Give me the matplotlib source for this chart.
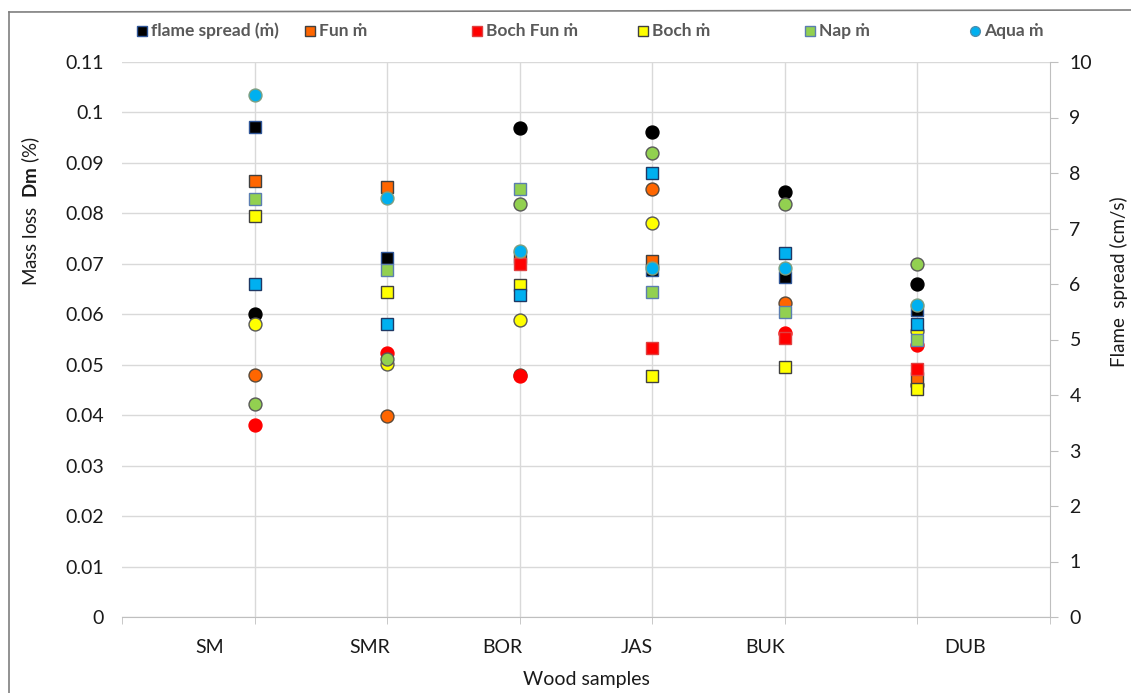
import numpy as np
import matplotlib
matplotlib.use('Agg')
import matplotlib.pyplot as plt
from matplotlib.lines import Line2D

plt.rcParams['font.family'] = ['Lato', 'DejaVu Sans']
plt.rcParams['mathtext.fontset'] = 'custom'
plt.rcParams['mathtext.bf'] = 'Lato:bold'
plt.rcParams['mathtext.rm'] = 'Lato'

nan = np.nan
samples = ['SM', 'SMR', 'BOR', 'JAS', 'BUK', 'DUB']
# where the sample names sit along the x axis (as in the original)
label_pos = [0.66, 1.87, 2.87, 3.88, 4.85, 6.36]

# mass loss Dm (%) -> circles, left axis
flame_dm = [0.0601, nan, 0.0969, 0.0961, 0.0843, 0.0660]
fun_dm = [0.0480, 0.0398, 0.0480, 0.0848, 0.0622, 0.0460]
bochfun_dm = [0.0380, 0.0524, 0.0478, nan, 0.0562, 0.0539]
boch_dm = [0.0581, 0.0501, 0.0589, 0.0780, nan, 0.0566]
nap_dm = [0.0422, 0.0512, 0.0819, 0.0920, 0.0819, 0.0700]
aqua_dm = [0.1035, 0.0831, 0.0725, 0.0691, 0.0691, 0.0618]

# flame spread (cm/s) -> squares, right axis
flame_fs = [8.83, 6.46, nan, 6.25, 6.13, 5.53]
fun_fs = [7.86, 7.75, 6.49, 6.42, nan, 4.30]
bochfun_fs = [nan, nan, 6.36, 4.84, 5.02, 4.47]
boch_fs = [7.23, 5.85, 5.99, 4.35, 4.51, 4.10]
nap_fs = [7.53, 6.25, 7.71, 5.86, 5.49, 5.00]
aqua_fs = [6.00, 5.28, 5.81, 8.00, 6.55, 5.28]

series_names = ['flame spread (\u1e41)', 'Fun \u1e41', 'Boch Fun \u1e41', 'Boch \u1e41', 'Nap \u1e41', 'Aqua \u1e41']
dm_data = [flame_dm, fun_dm, bochfun_dm, boch_dm, nap_dm, aqua_dm]
fs_data = [flame_fs, fun_fs, bochfun_fs, boch_fs, nap_fs, aqua_fs]

colors = ['#000000', '#FF6600', '#FF0000', '#FFFF00', '#92D050', '#00B0F0']
circle_edges = ['#000000', '#5a4a3a', '#FF0000', '#595959', '#595959', '#7f9f80']
square_edges = ['#2F5597', '#404040', '#E04040', '#404040', '#5B7DB1', '#1F3864']

W, H = 1131, 693
fig = plt.figure(figsize=(W / 100, H / 100), dpi=100)
ax = fig.add_axes([122 / W, 1 - 617 / H, (1050 - 122) / W, (617 - 62) / H])
ax2 = ax.twinx()

x = np.arange(1, len(samples) + 1)
ax.set_xlim(0, 7)
ax.set_ylim(0, 0.11)
ax2.set_ylim(0, 10)

grid_c = '#D9D9D9'
ax.set_yticks(np.arange(0, 0.111, 0.01))
ax.set_yticklabels(['0'] + ['%g' % round(v, 2) for v in np.arange(0.01, 0.111, 0.01)])
ax.yaxis.grid(True, color=grid_c, lw=1)
for xi in x:
    ax.axvline(xi, color=grid_c, lw=1, zorder=0)
ax.set_axisbelow(True)

ax.set_xticks(label_pos)
ax.set_xticklabels(samples)
ax.set_xticks(np.arange(0, 8), minor=True)
ax.tick_params(axis='x', which='major', length=0, pad=16, labelsize=14, labelcolor='#1a1a1a')
ax.tick_params(axis='x', which='minor', length=5, color='#BFBFBF', direction='out')
ax.tick_params(axis='y', length=0, pad=13, labelsize=14, labelcolor='#1a1a1a')

ax2.set_yticks(np.arange(0, 11, 1))
ax2.tick_params(axis='y', length=6, color='#BFBFBF', pad=8, labelsize=14, labelcolor='#1a1a1a')

for a in (ax, ax2):
    for s in ('top', 'left', 'right', 'bottom'):
        a.spines[s].set_visible(False)
ax.spines['bottom'].set_visible(True)
ax.spines['bottom'].set_color('#BFBFBF')
ax2.spines['right'].set_visible(True)
ax2.spines['right'].set_color('#BFBFBF')

# all markers live on ax2 so the stacking order follows the series order
to_fs = 10 / 0.11
z = 3
for i in range(len(series_names)):
    ax2.plot(x, np.array(dm_data[i]) * to_fs, 'o', ms=9.3, mfc=colors[i],
             mec=circle_edges[i], mew=1.0, zorder=z)
    z += 1
    if i < len(series_names) - 1:
        ax2.plot(x, fs_data[i], 's', ms=8.4, mfc=colors[i],
                 mec=square_edges[i], mew=1.0, zorder=z)
        z += 1
ax2.plot(x, aqua_fs, 's', ms=8.4, mfc=colors[5], mec=square_edges[5], mew=1.0, zorder=z - 2)

# legend drawn along the top
leg_x = [142, 310, 477, 643, 810, 975]
leg_y = 1 - 31 / H
for i, name in enumerate(series_names):
    mk = 'o' if i == 5 else 's'
    fig.add_artist(Line2D([leg_x[i] / W], [leg_y], marker=mk, ms=6.5 if mk == 's' else 7,
                          mfc=colors[i], mec=square_edges[i] if mk == 's' else '#4a8fb0',
                          mew=1.0, ls='none', transform=fig.transFigure))
    fig.text((leg_x[i] + 9) / W, leg_y, name, fontsize=12.5, fontweight='bold',
             color='#595959', va='center', ha='left')

fig.text(31 / W, 1 - 211 / H, 'Mass loss  $\\mathbf{Dm}$ (%)', rotation=90,
         fontsize=13.5, color='#1a1a1a', ha='center', va='center')
fig.text(1119 / W, 1 - 282 / H, 'Flame  spread (cm/s)', rotation=90,
         fontsize=13.5, color='#1a1a1a', ha='center', va='center')
fig.text(586 / W, 1 - 680 / H, 'Wood samples', fontsize=14, color='#1a1a1a',
         ha='center', va='center')

# chart area border
fig.add_artist(Line2D([9 / W, 1.0], [1 - 12 / H, 1 - 10 / H], color='#7f7f7f', lw=1.2,
                      transform=fig.transFigure))
fig.add_artist(Line2D([9 / W, 9 / W], [1 - 12 / H, 0], color='#7f7f7f', lw=1.2,
                      transform=fig.transFigure))

fig.savefig('out.png', dpi=100, facecolor='white')
